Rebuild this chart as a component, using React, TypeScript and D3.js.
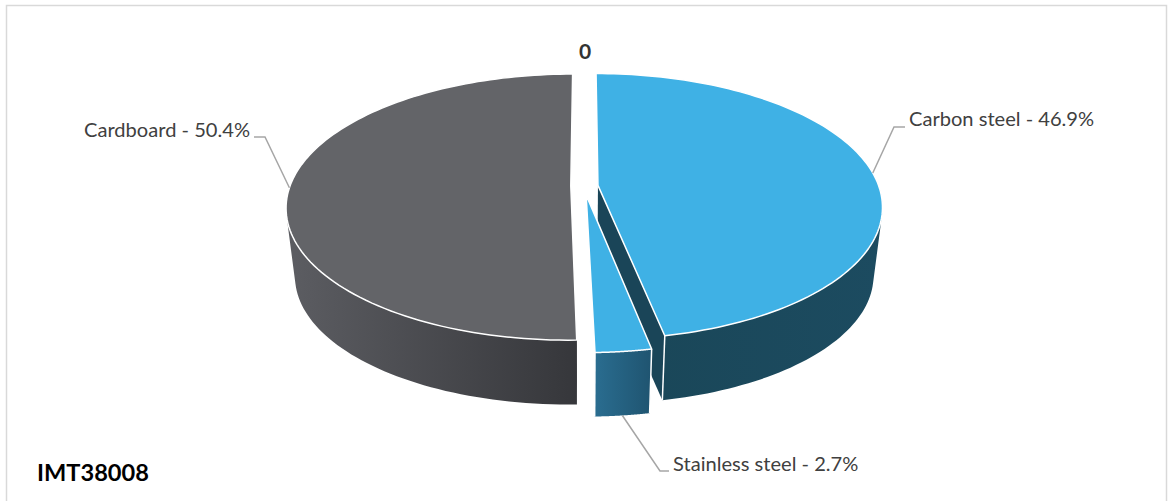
import React from "react";
import * as d3 from "d3";

const categories = ["Carbon steel", "Stainless steel", "Cardboard"];
const shares = [46.9, 2.7, 50.4];
const explode = [0.05, 0.068, 0.047];
const topFill = ["#3fb1e5", "#3fb1e5", "#636468"];
const wallStops = [
  ["#1a4759", "#1c4b60"],
  ["#2a6d90", "#1f5470"],
  ["#5b5c61", "#36373b"],
];
const wallSpan = [[650, 880], [595, 652], [295, 576]];
const leaderTurns = [
  [[894, 127], [905, 127]],
  [[660, 471], [669, 471]],
  [[265, 137], [254, 137]],
];
const labelSpots = [
  { x: 909, y: 126, anchor: "start" },
  { x: 673, y: 471, anchor: "start" },
  { x: 250, y: 137, anchor: "end" },
];

const W = 1173;
const H = 501;
const cx = 584;
const apexY = 186;
const floorY = 255;
const floorScale = 0.97;
const radiusX = 280.8;
const radiusY = 129.7;
const tilt = 0.158;
// How far along the radius the slim left-hand cut faces stay visible.
const cutReach = 0.55;

type Pt = [number, number];

const pieAngles = d3.pie<number>().sort(null).value((d) => d)(shares);

// Perspective mapping of a point on the unit disc to the screen.
function project(theta: number, r: number, mid: number, e: number, floor: boolean): Pt {
  const u = Math.sin(theta) * r + e * Math.sin(mid);
  const v = -Math.cos(theta) * r - e * Math.cos(mid);
  const w = 1 / (1 - tilt * v);
  const x = cx + radiusX * u * w;
  const y = apexY + radiusY * v * w;
  return floor ? [cx + floorScale * (x - cx), floorY + floorScale * (y - apexY)] : [x, y];
}

const path = d3.line<Pt>();

export default function App() {
  const slices = pieAngles.map((a, i) => {
    const mid = (a.startAngle + a.endAngle) / 2;
    const e = explode[i];
    const thetas = d3.range(0, 121).map((t) => a.startAngle + ((a.endAngle - a.startAngle) * t) / 120);
    const arc = (floor: boolean) => thetas.map((t) => project(t, 1, mid, e, floor));
    const apex = (floor: boolean) => project(0, 0, mid, e, floor);
    const topArc = arc(false);
    const lowArc = arc(true);
    // The outer wall is a union of small hulls, so its silhouette includes
    // the straight run between the top rim and the floor rim. Only the
    // part of the rim that faces the viewer is drawn.
    const wall = d3
      .range(120)
      .filter((t) => Math.cos(thetas[t]) < 0.2)
      .map((t) => {
        const hull = d3.polygonHull([topArc[t], topArc[t + 1], lowArc[t + 1], lowArc[t]]);
        return hull ? path(hull as Pt[]) + "Z" : "";
      })
      .join("");
    return {
      i,
      mid,
      e,
      top: path([apex(false), ...topArc])! + "Z",
      wall,
      cut:
        i === 0
          ? path([apex(false), topArc[120], lowArc[120], apex(true)])! + "Z"
          : path([topArc[0], lowArc[0], project(a.startAngle, cutReach, mid, e, true)])! + "Z",
      cornerA: path([topArc[0], lowArc[0]])!,
      cornerB: path([topArc[120], lowArc[120]])!,
    };
  });

  const leaders = slices.map((s, i) => {
    const start = project(s.mid, 1, s.mid, s.e, i === 1);
    return path([start, ...(leaderTurns[i] as Pt[])])!;
  });

  return (
    <svg
      width={W}
      height={H}
      style={{ position: "absolute", left: 0, top: 0, display: "block" }}
      fontFamily="Lato, 'Open Sans', sans-serif"
    >
      <defs>
        {wallStops.map((stops, i) => (
          <linearGradient
            key={i}
            id={`wall${i}`}
            gradientUnits="userSpaceOnUse"
            x1={wallSpan[i][0]}
            x2={wallSpan[i][1]}
            y1={0}
            y2={0}
          >
            <stop offset="0" stopColor={stops[0]} />
            <stop offset="1" stopColor={stops[1]} />
          </linearGradient>
        ))}
      </defs>
      <rect width={W} height={H} fill="#fff" />
      <path d="M6.5 501V5.5H1166.5V501" fill="none" stroke="#d9d9d9" strokeWidth={1.5} />

      {slices.map((s) => (
        <g key={categories[s.i]}>
          <path d={s.cut} fill={s.i === 2 ? "#36373b" : "#1a4558"} />
          <path d={s.wall} fill={`url(#wall${s.i})`} />
          {s.i === 1 && <path d={s.cornerA} stroke="#fff" strokeWidth={1.5} fill="none" />}
          {s.i !== 2 && <path d={s.cornerB} stroke="#fff" strokeWidth={1.5} fill="none" />}
          <path d={s.top} fill={topFill[s.i]} stroke="#fff" strokeWidth={1.5} strokeLinejoin="round" />
        </g>
      ))}

      {leaders.map((d, i) => (
        <path key={i} d={d} fill="none" stroke="#a6a6a6" strokeWidth={1.5} />
      ))}

      {categories.map((name, i) => (
        <text
          key={name}
          x={labelSpots[i].x}
          y={labelSpots[i].y}
          textAnchor={labelSpots[i].anchor as "start" | "end"}
          fontSize={20.1}
          fill="#404040"
        >
          {`${name} - ${shares[i]}%`}
        </text>
      ))}

      <text x={585} y={59} textAnchor="middle" fontSize={21} fontWeight={700} fill="#333">
        0
      </text>
      <text x={37} y={481} fontSize={23.6} fontWeight={700} fill="#000">
        IMT38008
      </text>
    </svg>
  );
}
